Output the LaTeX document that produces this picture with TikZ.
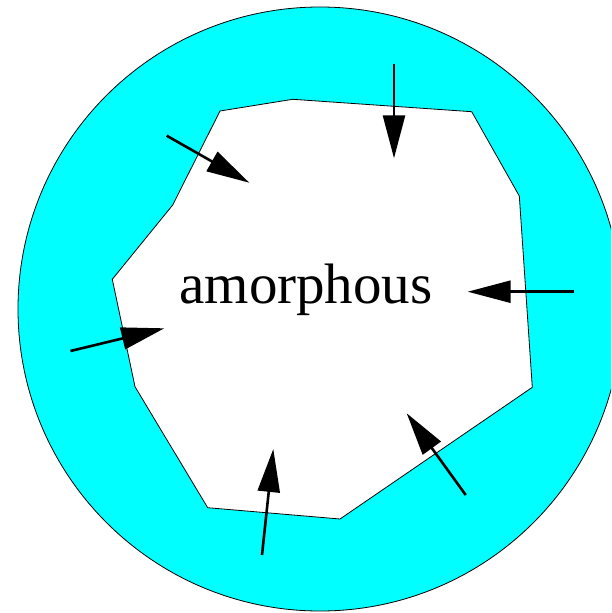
\documentclass[tikz,border=0pt]{standalone}
\usepackage{fontspec}
\setmainfont{Liberation Serif}
\usepackage{tikz}
\usetikzlibrary{arrows.meta}
\definecolor{shellcyan}{RGB}{0, 255, 255}

\begin{document}
\begin{tikzpicture}[
        x=1pt, y=-1pt,
        shell/.style={draw=black, line width=0.8pt, fill=shellcyan},
        core/.style={draw=black, line width=0.8pt, fill=white, line join=miter},
        push/.style={-{Triangle[length=43pt, width=22pt]}, line width=2.6pt, draw=black},
        label/.style={font=\fontsize{57}{61}\selectfont, inner sep=0pt}
    ]
    \useasboundingbox (0,0) rectangle (611,613);
    \clip (0,0) rectangle (611,613);
    % crystalline shell
    \draw[shell] (320,309) circle[radius=302];
    % amorphous core
    \draw[core] (220,111) -- (292.7,99.3) -- (471.7,111.7) -- (519.3,196)
        -- (532.3,387.3) -- (340,519) -- (207.7,507.7) -- (135,386.7)
        -- (112.3,279.3) -- (172.7,205) -- cycle;
    \node[label, anchor=base] (amor) at (306,303.3) {amorphous};
    % arrows pointing inward
    \coordinate (t1) at (166.7,135.7);  \coordinate (h1) at (249.3,182.7);
    \coordinate (t2) at (394,64);       \coordinate (h2) at (394,158.3);
    \coordinate (t3) at (573.5,291.7);  \coordinate (h3) at (467.7,291.7);
    \coordinate (t4) at (70.5,351);     \coordinate (h4) at (164.3,328.3);
    \coordinate (t5) at (262,555);      \coordinate (h5) at (273.3,449);
    \coordinate (t6) at (465.7,495);    \coordinate (h6) at (406.7,413.3);
    \foreach \i in {1,...,6}
        \draw[push] (t\i) -- (h\i);
\end{tikzpicture}
\end{document}
